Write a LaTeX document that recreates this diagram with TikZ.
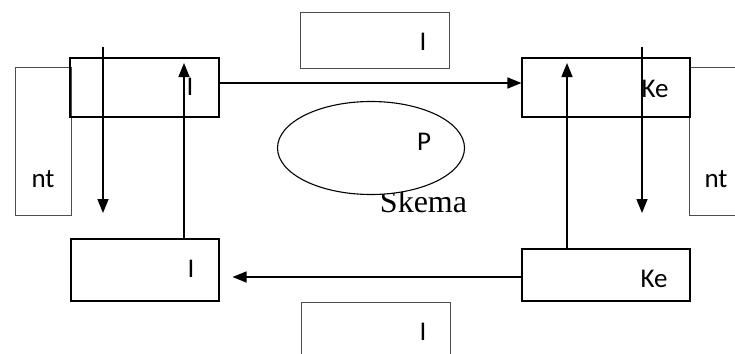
\documentclass[tikz,border=0pt]{standalone}
\usepackage{fontspec}
\setmainfont{Liberation Serif}
\newfontfamily\boxfont{Carlito}
\usetikzlibrary{arrows.meta,shapes.geometric}

\begin{document}
\begin{tikzpicture}[x=1pt,y=-1pt,>={Triangle[length=14pt,width=11pt]},
        box/.style={draw,line width=1.1pt,inner sep=0pt},
        sidebox/.style={draw=black!70,line width=0.9pt,inner sep=0pt},
        arr/.style={->,line width=1.5pt},
        lbl/.style={font=\boxfont\fontsize{27}{30}\selectfont,inner sep=0pt,anchor=base}]
        \useasboundingbox (0,0) rectangle (735,353);

        \node[sidebox,minimum width=56pt,minimum height=148pt] (lnt) at (43,141) {};
        \node[sidebox,minimum width=71pt,minimum height=148pt] (rnt) at (724.5,141) {};
        \node[box,minimum width=149pt,minimum height=59pt] (tl) at (144.5,87.5) {};
        \node[box,minimum width=168pt,minimum height=59pt] (tr) at (606,87.5) {};
        \node[box,minimum width=148pt,minimum height=62pt] (bl) at (145,270) {};
        \node[box,minimum width=168pt,minimum height=52pt] (br) at (606,275) {};
        \node[sidebox,minimum width=149pt,minimum height=56pt] (ti) at (374.5,40) {};
        \node[sidebox,minimum width=149pt,minimum height=68pt] (bi) at (375.5,336) {};

        \node[inner sep=0pt,anchor=base,font=\fontsize{32}{34}\selectfont] (skema) at (423.5,212) {Skema};
        \node[ellipse,draw,fill=white,line width=1.1pt,minimum width=187pt,minimum height=93pt] (proc) at (371,148) {};

        \node[lbl] (ltl) at (190,95) {I};
        \node[lbl] (llnt) at (43,187) {nt};
        \node[lbl] (ltr) at (655,97) {Ke};
        \node[lbl] (lrnt) at (716,187) {nt};
        \node[lbl] (lbl) at (191,277) {I};
        \node[lbl] (lbr) at (654,287) {Ke};
        \node[lbl] (lti) at (423,50) {I};
        \node[lbl] (lbi) at (423,340) {I};
        \node[lbl] (lproc) at (424,150) {P};

        \coordinate (ldtop) at (103,47);
        \coordinate (ldend) at (103,213);
        \coordinate (lutip) at (184,63);
        \coordinate (rutip) at (567,63);
        \coordinate (rdtop) at (642,47);
        \coordinate (rdend) at (642,213);

        \draw[arr] ([yshift=4.5pt]tl.east) -- ([yshift=4.5pt]tr.west);
        \draw[arr,shorten >=13pt] ([yshift=-2pt]br.west) -- ([yshift=-7pt]bl.east);
        \draw[arr] (ldtop) -- (ldend);
        \draw[arr] ([xshift=39pt]bl.north) -- (lutip);
        \draw[arr] ([xshift=-39pt]br.north) -- (rutip);
        \draw[arr] (rdtop) -- (rdend);
\end{tikzpicture}
\end{document}
